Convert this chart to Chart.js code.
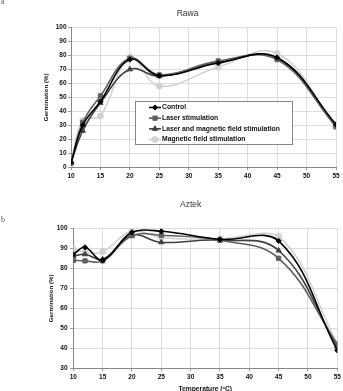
<!DOCTYPE html>
<html>
<head>
<meta charset="utf-8">
<script src="https://cdn.jsdelivr.net/npm/chart.js@4.4.1/dist/chart.umd.min.js"></script>
<style>
  body { margin: 0; width: 343px; height: 391px; overflow: hidden; background: #fff; position: relative; }
  canvas { position: absolute; left: 0; }
  .tag { position: absolute; left: 1px; font: 8px "Liberation Serif", serif; color: #555; z-index: 2; }
</style>
</head>
<body>
<canvas id="rawaChart" width="343" height="190" style="top:0"></canvas>
<canvas id="aztekChart" width="343" height="215" style="top:190px"></canvas>
<span class="tag" style="top:-3px">a</span>
<span class="tag" style="top:215px">b</span>
<script>
// temperature of each measurement (ºC)
const temperatures = [10, 12, 15, 20, 25, 35, 45, 55];
const seriesNames = ['Control', 'Laser stimulation', 'Laser and magnetic field stimulation', 'Magnetic field stimulation'];
const xTicks = [10, 15, 20, 25, 30, 35, 40, 45, 50, 55];

// Rawa germination (%)
const rawaControl = [3, 30, 47, 77, 65.5, 74.5, 78.5, 30.5];
const rawaLaser = [3, 32, 51, 78, 66, 76, 77, 29];
const rawaLaserMagnetic = [3, 26, 46, 70, 65, 75, 78, 30];
const rawaMagnetic = [1.5, 33.5, 36.5, 78.8, 58, 71.7, 81.5, 28.5];

// Aztek germination (%)
const aztekControl = [87, 90.5, 84, 98, 98.5, 94.5, 93.7, 39];
const aztekLaser = [84, 83.7, 83.7, 96.3, 96.5, 94, 85, 42];
const aztekLaserMagnetic = [86, 87, 84.5, 96.5, 93, 94, 88.9, 41];
const aztekMagnetic = [89.5, 88, 88.3, 98.6, 95.3, 94.8, 96, 42.5];

const seriesColors = ['#000000', '#5a6060', '#3c4242', '#d2d2d2'];
const seriesMarkers = ['rectRot', 'rect', 'triangle', 'circle'];

const FONT = '"Liberation Sans", Arial, sans-serif';

// legend drawn inside the plot, like the original
const insideLegend = {
    id: 'insideLegend',
    afterDraw(chart, args, opts) {
        const ctx = chart.ctx;
        const { x, y, w, h, row } = opts;
        ctx.save();
        ctx.fillStyle = '#fff';
        ctx.fillRect(x, y, w, h);
        ctx.strokeStyle = '#888';
        ctx.lineWidth = 1;
        ctx.strokeRect(x + 0.5, y + 0.5, w, h);
        ctx.font = 'bold 6.8px ' + FONT;
        ctx.textBaseline = 'middle';
        chart.data.datasets.forEach((ds, i) => {
            const cy = y + 6.5 + i * row;
            ctx.strokeStyle = ds.borderColor;
            ctx.fillStyle = ds.backgroundColor;
            ctx.lineWidth = 1.6;
            ctx.beginPath();
            ctx.moveTo(x + 14, cy);
            ctx.lineTo(x + 26, cy);
            ctx.stroke();
            ctx.lineWidth = 1;
            Chart.helpers.drawPoint(ctx, { pointStyle: ds.pointStyle, radius: ds.pointRadius, borderWidth: 1, rotation: 0 }, x + 20, cy);
            ctx.fillStyle = '#111';
            ctx.fillText(ds.label, x + 27, cy);
        });
        ctx.restore();
    }
};

function renderChart(canvasId, chartTitle, seriesValues, yMin, g) {
    const ctx = document.getElementById(canvasId).getContext('2d');
    return new Chart(ctx, {
        type: 'line',
        data: {
            datasets: seriesValues.map((values, i) => ({
                label: seriesNames[i],
                data: temperatures.map((t, k) => ({ x: t, y: values[k] })),
                borderColor: seriesColors[i],
                backgroundColor: seriesColors[i],
                pointStyle: seriesMarkers[i],
                pointRadius: seriesMarkers[i] === 'rectRot' ? 2.6 : 3,
                pointBorderWidth: 1,
                borderWidth: 1.6,
                tension: 0.4,
                fill: false
            }))
        },
        options: {
            responsive: false,
            animation: false,
            events: [],
            layout: { padding: { left: g.padLeft, right: g.padRight, top: 0, bottom: 0 } },
            plugins: {
                legend: { display: false },
                tooltip: { enabled: false },
                title: {
                    display: true,
                    text: chartTitle,
                    color: '#333',
                    font: { family: FONT, size: 8.5, weight: 'normal' },
                    padding: { top: g.titleTop, bottom: g.titleBottom }
                },
                insideLegend: g.legend || {}
            },
            scales: {
                x: {
                    type: 'linear',
                    min: 10,
                    max: 55,
                    afterBuildTicks: scale => { scale.ticks = xTicks.map(v => ({ value: v })); },
                    ticks: { color: '#111', padding: g.xTickPad, font: { family: FONT, size: 6.5, weight: 'bold' } },
                    grid: { color: '#dcdcdc', tickColor: '#999', tickLength: 3 },
                    border: { color: '#888' },
                    title: {
                        display: !!g.xTitle,
                        text: g.xTitle || '',
                        color: '#111',
                        font: { family: FONT, size: 6.7, weight: 'bold' },
                        padding: { top: 0, bottom: 11.5 }
                    },
                    afterFit(scale) {
                        scale.height = g.xHeight;
                        scale.paddingLeft = 0;
                        scale.paddingRight = 0;
                    }
                },
                y: {
                    min: yMin,
                    max: 100,
                    ticks: { stepSize: 10, color: '#111', padding: g.yTickPad, font: { family: FONT, size: 6.5, weight: 'bold' } },
                    grid: { color: '#dcdcdc', tickColor: '#999', tickLength: 3 },
                    border: { color: '#888' },
                    title: {
                        display: true,
                        text: 'Germination (%)',
                        color: '#111',
                        font: { family: FONT, size: 6.2, weight: 'bold' },
                        padding: { top: 4, bottom: 0 }
                    },
                    afterFit(scale) {
                        scale.width = g.yWidth;
                        scale.paddingTop = 0;
                        scale.paddingBottom = 0;
                    }
                }
            }
        },
        plugins: g.legend ? [insideLegend] : []
    });
}

renderChart('rawaChart', 'Rawa',
    [rawaControl, rawaLaser, rawaLaserMagnetic, rawaMagnetic], 0,
    { padLeft: 39, yWidth: 32, padRight: 7, titleTop: 8.9, titleBottom: 8.4, xHeight: 23, xTickPad: 2.5, yTickPad: 1.5,
      legend: { x: 135, y: 101, w: 157, h: 43, row: 10.67 } });

renderChart('aztekChart', 'Aztek',
    [aztekControl, aztekLaser, aztekLaserMagnetic, aztekMagnetic], 30,
    { padLeft: 44, yWidth: 29.3, padRight: 5.7, titleTop: 9.9, titleBottom: 18.2, xHeight: 36.7, xTickPad: 2.5, yTickPad: 2.8,
      xTitle: 'Temperature (ºC)' });
</script>
</body>
</html>
